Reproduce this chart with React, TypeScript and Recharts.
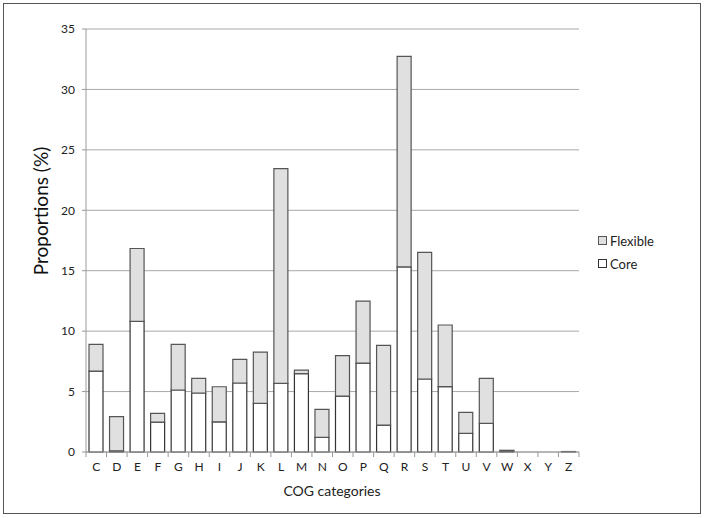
import React from 'react';
import { BarChart, Bar, XAxis, YAxis, CartesianGrid } from 'recharts';

// COG functional categories and their proportions (%)
const categories = ['C', 'D', 'E', 'F', 'G', 'H', 'I', 'J', 'K', 'L', 'M', 'N', 'O', 'P', 'Q', 'R', 'S', 'T', 'U', 'V', 'W', 'X', 'Y', 'Z'];
const coreValues = [6.7, 0.1, 10.8, 2.48, 5.13, 4.88, 2.5, 5.71, 4.03, 5.68, 6.48, 1.21, 4.63, 7.36, 2.23, 15.31, 6.04, 5.41, 1.54, 2.37, 0.1, 0, 0, 0];
const flexibleValues = [2.21, 2.82, 6.04, 0.72, 3.77, 1.21, 2.9, 1.96, 4.24, 17.76, 0.3, 2.32, 3.34, 5.13, 6.6, 17.43, 10.48, 5.1, 1.74, 3.72, 0.04, 0, 0, 0.04];
const yTicks = [0, 5, 10, 15, 20, 25, 30, 35];

const data = categories.map((cat, i) => ({ cat, core: coreValues[i], flexible: flexibleValues[i] }));

const legendItems = [
  { name: 'Flexible', fill: '#e0e0e0', stroke: '#555' },
  { name: 'Core', fill: '#ffffff', stroke: '#333' },
];

const font = 'Lato, "Open Sans", sans-serif';

// category label in the middle, Excel-style tick marks on the band edges
const CategoryTick = (props: any) => {
  const { x, y, payload, index, visibleTicksCount } = props;
  const half = payload.offset || 0;
  return (
    <g>
      <line x1={x - half} x2={x - half} y1={y} y2={y + 5} stroke="#999" />
      {index === visibleTicksCount - 1 && <line x1={x + half} x2={x + half} y1={y} y2={y + 5} stroke="#999" />}
      <text x={x} y={y + 10} dy="0.71em" textAnchor="middle" fontSize={12} fill="#222" fontFamily={font}>
        {payload.value}
      </text>
    </g>
  );
};

export default function App() {
  return (
    <div style={{ position: 'absolute', left: 0, top: 0, width: 704, height: 518, background: '#fff', fontFamily: font }}>
      <div style={{ position: 'absolute', left: 3, top: 3, width: 698, height: 511, border: '1.5px solid #555', boxSizing: 'border-box' }} />
      <BarChart
        width={704}
        height={518}
        data={data}
        margin={{ top: 29, right: 125, bottom: 0, left: 0 }}
        barSize={14}
        style={{ position: 'absolute', left: 0, top: 0 }}
      >
        <CartesianGrid vertical={false} stroke="#a8a8a8" />
        <XAxis
          dataKey="cat"
          interval={0}
          height={66}
          axisLine={{ stroke: '#999' }}
          tickLine={false}
          tickSize={0}
          tickMargin={0}
          tick={<CategoryTick />}
          label={{
            content: () => (
              <text x={332} y={496} textAnchor="middle" fontSize={14} fill="#222" fontFamily={font}>
                COG categories
              </text>
            ),
          }}
        />
        <YAxis
          width={86}
          domain={[0, 35]}
          ticks={yTicks}
          interval={0}
          axisLine={{ stroke: '#999' }}
          tickLine={{ stroke: '#999' }}
          tickSize={4}
          tickMargin={7}
          tick={{ fill: '#222', fontSize: 12, fontFamily: font }}
          label={{
            content: () => (
              <text x={48} y={211} transform="rotate(-90 48 211)" textAnchor="middle" fontSize={19} fill="#111" fontFamily={font}>
                Proportions (%)
              </text>
            ),
          }}
        />
        <Bar dataKey="core" name="Core" stackId="a" fill="#ffffff" stroke="#333" strokeWidth={1.2} isAnimationActive={false} />
        <Bar dataKey="flexible" name="Flexible" stackId="a" fill="#e0e0e0" stroke="#555" strokeWidth={1.2} isAnimationActive={false} />
      </BarChart>
      <div style={{ position: 'absolute', left: 598, top: 229 }}>
        {legendItems.map((item) => (
          <div key={item.name} style={{ display: 'flex', alignItems: 'center', height: 23, fontSize: 13, color: '#222' }}>
            <span style={{ width: 7, height: 7, background: item.fill, border: `1px solid ${item.stroke}`, marginRight: 3 }} />
            {item.name}
          </div>
        ))}
      </div>
    </div>
  );
}
